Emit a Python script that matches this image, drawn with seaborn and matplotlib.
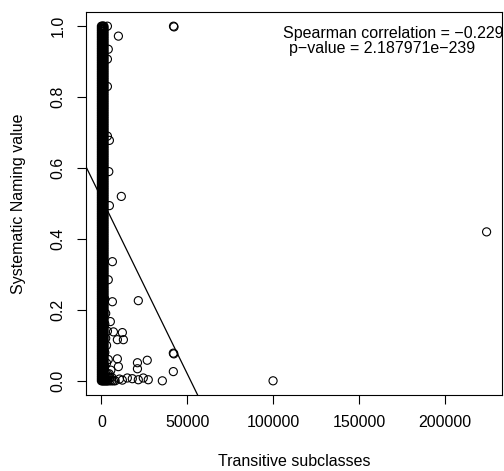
import numpy as np
import pandas as pd
import matplotlib
matplotlib.use('Agg')
import matplotlib.pyplot as plt
import seaborn as sns

# dense column of points near x = 0
col_x = [0, 500, 1000, 1500]
col_y = [0.000, 0.005, 0.010, 0.015, 0.020, 0.025, 0.030, 0.035, 0.040, 0.045,
         0.050, 0.055, 0.060, 0.065, 0.070, 0.075, 0.080, 0.085, 0.090, 0.095,
         0.100, 0.105, 0.110, 0.115, 0.120, 0.125, 0.130, 0.135, 0.140, 0.145,
         0.150, 0.155, 0.160, 0.165, 0.170, 0.175, 0.180, 0.185, 0.190, 0.195,
         0.200, 0.205, 0.210, 0.215, 0.220, 0.225, 0.230, 0.235, 0.240, 0.245,
         0.250, 0.255, 0.260, 0.265, 0.270, 0.275, 0.280, 0.285, 0.290, 0.295,
         0.300, 0.305, 0.310, 0.315, 0.320, 0.325, 0.330, 0.335, 0.340, 0.345,
         0.350, 0.355, 0.360, 0.365, 0.370, 0.375, 0.380, 0.385, 0.390, 0.395,
         0.400, 0.405, 0.410, 0.415, 0.420, 0.425, 0.430, 0.435, 0.440, 0.445,
         0.450, 0.455, 0.460, 0.465, 0.470, 0.475, 0.480, 0.485, 0.490, 0.495,
         0.500, 0.505, 0.510, 0.515, 0.520, 0.525, 0.530, 0.535, 0.540, 0.545,
         0.550, 0.555, 0.560, 0.565, 0.570, 0.575, 0.580, 0.585, 0.590, 0.595,
         0.600, 0.605, 0.610, 0.615, 0.620, 0.625, 0.630, 0.635, 0.640, 0.645,
         0.650, 0.655, 0.660, 0.665, 0.670, 0.675, 0.680, 0.685, 0.690, 0.695,
         0.700, 0.705, 0.710, 0.715, 0.720, 0.725, 0.730, 0.735, 0.740, 0.745,
         0.750, 0.755, 0.760, 0.765, 0.770, 0.775, 0.780, 0.785, 0.790, 0.795,
         0.800, 0.805, 0.810, 0.815, 0.820, 0.825, 0.830, 0.835, 0.840, 0.845,
         0.850, 0.855, 0.860, 0.865, 0.870, 0.875, 0.880, 0.885, 0.890, 0.895,
         0.900, 0.905, 0.910, 0.915, 0.920, 0.925, 0.930, 0.935, 0.940, 0.945,
         0.950, 0.955, 0.960, 0.965, 0.970, 0.975, 0.980, 0.985, 0.990, 0.995,
         1.000]

# spread of points at the foot of the column
fan_x = [2000, 2500, 3000, 3500, 4000, 5000, 6000, 7000, 8000, 2000, 3000, 4000,
         5000, 6000, 2500, 3500, 4500, 5500, 2000, 3000, 4000, 2000, 3000, 2500,
         3500, 2000, 2500, 2000]
fan_y = [0.000, 0.000, 0.000, 0.000, 0.000, 0.000, 0.000, 0.000, 0.000, 0.010,
         0.010, 0.010, 0.010, 0.010, 0.020, 0.020, 0.020, 0.030, 0.040, 0.050,
         0.060, 0.080, 0.100, 0.120, 0.140, 0.160, 0.190, 0.230]

# scattered points
out_x = [42000, 42300, 9900, 3500, 4000, 3500, 3500, 3500, 4650, 4300, 11600,
         4650, 6400, 4000, 21500, 6400, 5200, 7000, 12200, 12800, 9300, 9300,
         9900, 21000, 26700, 21000, 41900, 42200, 41900, 15100, 18000, 21500,
         24400, 27300, 35500, 12200, 10500, 100000, 224400]
out_y = [1.000, 0.998, 0.972, 1.000, 0.935, 0.907, 0.830, 0.690, 0.678, 0.590,
         0.520, 0.494, 0.336, 0.285, 0.226, 0.223, 0.167, 0.138, 0.136, 0.116,
         0.116, 0.062, 0.040, 0.051, 0.058, 0.034, 0.078, 0.076, 0.026, 0.008,
         0.006, 0.003, 0.008, 0.003, 0.000, 0.002, 0.005, 0.000, 0.420]

# fitted line
line_intercept = 0.515
line_slope = -9.9e-6

spearman_text = "Spearman correlation = \u22120.229"
pvalue_text = "p\u2212value = 2.187971e\u2212239"

x_ticks = [0, 50000, 100000, 150000, 200000]
y_ticks = [0.0, 0.2, 0.4, 0.6, 0.8, 1.0]
y_tick_labels = ["0.0", "0.2", "0.4", "0.6", "0.8", "1.0"]

# build the table
xs, ys = [], []
for cx in col_x:
    xs += [cx] * len(col_y)
    ys += col_y
xs += fan_x + out_x
ys += fan_y + out_y
df = pd.DataFrame({'subclasses': xs, 'naming': ys})

plt.rcParams['font.family'] = ['Liberation Sans', 'DejaVu Sans']
fs = 11.5

fig = plt.figure(figsize=(5.04, 4.71), dpi=100)
ax = fig.add_axes([86 / 504, 1 - 395 / 471, 416 / 504, 383 / 471])

sns.scatterplot(data=df, x='subclasses', y='naming', ax=ax, marker='o', s=34,
                facecolor='none', edgecolor='black', linewidth=0.8)

ax.axline((0, line_intercept), slope=line_slope, color='black', lw=0.9)

# R-style axis limits (4% padding)
xr = df['subclasses'].max() - df['subclasses'].min()
ax.set_xlim(df['subclasses'].min() - 0.04 * xr, df['subclasses'].max() + 0.04 * xr)
ax.set_ylim(-0.04, 1.04)

ax.set_xticks(x_ticks)
ax.set_xticklabels([str(t) for t in x_ticks])
ax.set_yticks(y_ticks)
ax.set_yticklabels(y_tick_labels, rotation=90, va='center')
ax.tick_params(length=6.5, width=0.8, pad=8, labelsize=fs)

ax.set_xlabel('Transitive subclasses', fontsize=fs)
ax.set_ylabel('Systematic Naming value', fontsize=fs)
ax.xaxis.set_label_coords(0.5, -0.155)
ax.yaxis.set_label_coords(-0.145, 0.5)

for sp in ax.spines.values():
    sp.set_linewidth(0.8)

ax.text((283 - 86) / 416, (395 - 38) / 383, spearman_text, transform=ax.transAxes,
        ha='left', va='baseline', fontsize=fs, clip_on=True)
ax.text((289 - 86) / 416, (395 - 52.5) / 383, pvalue_text, transform=ax.transAxes,
        ha='left', va='baseline', fontsize=fs, clip_on=True)

fig.savefig('out.png', dpi=100)
